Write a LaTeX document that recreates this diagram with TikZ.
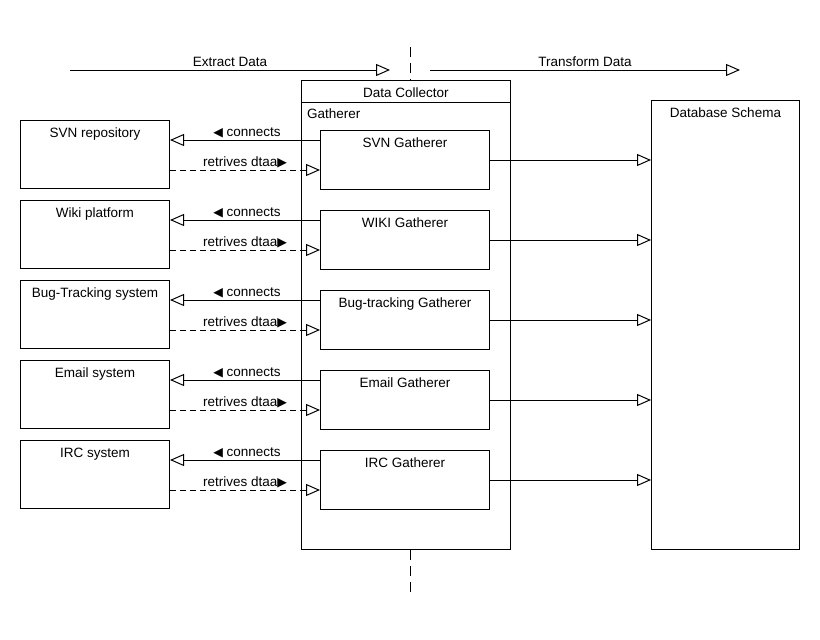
\documentclass[tikz,border=0pt]{standalone}
\usepackage{fontspec}
\setmainfont{Liberation Sans}
\newfontfamily\tipfont{DejaVu Sans}
\usetikzlibrary{arrows.meta}
\tikzset{
  box/.style={draw,line width=1pt,rectangle,anchor=north west,inner sep=0pt},
  srcsize/.style={minimum width=149pt,minimum height=68pt},
  gathsize/.style={minimum width=169pt,minimum height=59pt},
  txt/.style={font=\fontsize{13.5}{16}\selectfont,inner sep=0pt},
  toptxt/.style={label={[txt,anchor=base,yshift=-17pt]north:#1}},
  linetxt/.style={txt,anchor=base,yshift=4pt},
  flow/.style={line width=1pt,-{Triangle[open,length=14pt,width=12pt]}},
  dashflow/.style={flow,dash pattern=on 6pt off 4pt},
  phase/.style={line width=1pt,dash pattern=on 10pt off 6pt},
}
\newcommand{\tipleft}{{\tipfont\fontsize{12.5}{14}\selectfont ◀}}
\newcommand{\tipright}{{\tipfont\fontsize{12.5}{14}\selectfont ▶}}
% one source system, its gatherer and the three arrows
\newcommand{\gatherrow}[4]{%
  \node[box,srcsize,toptxt={#3}] (src#1) at (20,#2) {};
  \node[box,gathsize,toptxt={#4}] (gath#1) at (320,{#2+10}) {};
  \coordinate (con#1) at ([yshift=-10pt]gath#1.north west);
  \coordinate (ret#1) at ([yshift=-40pt]gath#1.north west);
  \draw[flow] (con#1) -- node[linetxt,xshift=2pt] {\tipleft\ connects} (con#1 -| src#1.east);
  \draw[dashflow] (ret#1 -| src#1.east) -- node[linetxt] {retrives dtaa\tipright} (ret#1);
  \draw[flow] (gath#1.east) -- (gath#1.east -| db.west);}

\begin{document}
\begin{tikzpicture}[x=1pt,y=-1pt]
\useasboundingbox (0,0) rectangle (820,640);
% phases
\coordinate (exA) at (70,70); \coordinate (exB) at (390,70);
\coordinate (trA) at (430,70); \coordinate (trB) at (740,70);
\draw[flow] (exA) -- node[linetxt] {Extract Data} (exB);
\draw[flow] (trA) -- node[linetxt] {Transform Data} (trB);
\draw[phase] (410,47) -- (410,80);
\draw[phase] (410,550) -- (410,597);
% collector and schema
\node[box,minimum width=209pt,minimum height=469pt,toptxt={Data Collector}] (dc) at (301,80) {};
\draw[line width=1pt] ([yshift=-22pt]dc.north west) -- ([yshift=-22pt]dc.north east);
\node[txt,anchor=base west] (gtitle) at ([xshift=6pt,yshift=-38pt]dc.north west) {Gatherer};
\node[box,minimum width=148pt,minimum height=449pt,toptxt={Database Schema}] (db) at (651,100) {};
% sources
\gatherrow{1}{120}{SVN repository}{SVN Gatherer}
\gatherrow{2}{200}{Wiki platform}{WIKI Gatherer}
\gatherrow{3}{280}{Bug-Tracking system}{Bug-tracking Gatherer}
\gatherrow{4}{360}{Email system}{Email Gatherer}
\gatherrow{5}{440}{IRC system}{IRC Gatherer}
\end{tikzpicture}
\end{document}
